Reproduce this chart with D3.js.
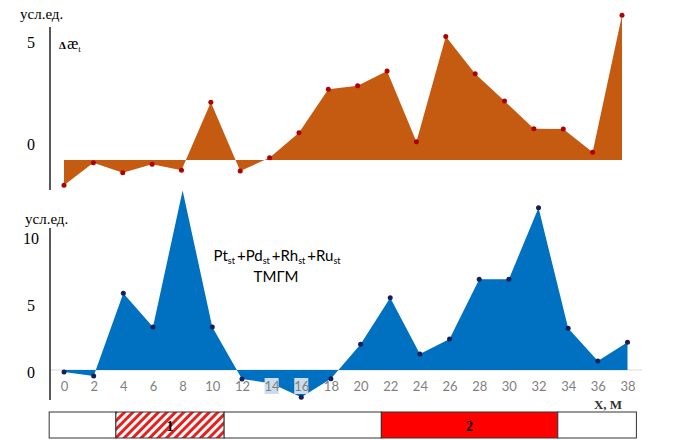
<!DOCTYPE html>
<html>
<head>
<meta charset="utf-8">
<script src="https://cdn.jsdelivr.net/npm/d3@7"></script>
<style>
  body { margin: 0; background: #fff; }
  svg { display: block; }
</style>
</head>
<body>
<svg id="chart" width="694" height="440"></svg>
<script>
// distance along profile, m
const xs = [0, 2, 4, 6, 8, 10, 12, 14, 16, 18, 20, 22, 24, 26, 28, 30, 32, 34, 36, 38];
// upper panel: delta ae_t
const deltaAe = [-1.24, -0.13, -0.62, -0.21, -0.5, 2.83, -0.54, 0.11, 1.34, 3.47, 3.64, 4.36, 0.9, 6.06, 4.23, 2.89, 1.53, 1.52, 0.38, 7.09];
// lower panel: Pt+Pd+Rh+Ru
const ptSum = [-0.15, -0.45, 5.72, 3.21, 13.4, 3.21, -0.67, -1.0, -2.04, -0.65, 1.92, 5.4, 1.19, 2.31, 6.77, 6.77, 12.11, 3.11, 0.67, 2.07];
const topTicks = [0, 5];
const botTicks = [0, 5, 10];
// zones under the profile (m)
const zoneEdges = [-1, 3.5, 10.8, 21.4, 33.3, 38.6];
const zoneTypes = ['none', 'hatch', 'none', 'solid', 'none'];
const zoneLabels = ['', '1', '', '2', ''];

const svg = d3.select('#chart');
const serif = 'Liberation Serif, Times New Roman, serif';
const sans = 'Lato, Open Sans, sans-serif';

const defs = svg.append('defs');
const pat = defs.append('pattern')
  .attr('id', 'hatch')
  .attr('patternUnits', 'userSpaceOnUse')
  .attr('width', 6).attr('height', 6)
  .attr('patternTransform', 'rotate(45)');
pat.append('rect').attr('width', 6).attr('height', 6).attr('fill', '#fff');
pat.append('rect').attr('width', 3).attr('height', 6).attr('fill', '#e8201c');

// ---- upper panel ----
const xTop = d3.scaleLinear().domain([0, 38]).range([64, 622]);
const yTop = d3.scaleLinear().domain([0, 5]).range([160, 58]);
const topData = xs.map((x, i) => ({ x, v: deltaAe[i] }));

svg.append('path')
  .datum(topData)
  .attr('fill', '#c55a11')
  .attr('d', d3.area().x(d => xTop(d.x)).y0(yTop(0)).y1(d => yTop(d.v)));

svg.selectAll('circle.top')
  .data(topData)
  .enter().append('circle')
  .attr('class', 'top')
  .attr('cx', d => xTop(d.x))
  .attr('cy', d => yTop(d.v))
  .attr('r', 2.5)
  .attr('fill', '#b00000');

svg.append('line')
  .attr('x1', 50).attr('x2', 50).attr('y1', 27).attr('y2', 190)
  .attr('stroke', '#000').attr('stroke-width', 1.3);

svg.selectAll('text.ytop')
  .data(topTicks)
  .enter().append('text')
  .attr('class', 'ytop')
  .attr('x', 31)
  .attr('y', d => yTop(d) - 10)
  .attr('text-anchor', 'middle')
  .attr('font-family', serif)
  .attr('font-size', 16)
  .text(d => d);

svg.append('text')
  .attr('x', 20).attr('y', 19)
  .attr('font-family', serif).attr('font-size', 15)
  .text('усл.ед.');

const ae = svg.append('text')
  .attr('x', 59).attr('y', 49)
  .attr('font-family', serif).attr('font-size', 17);
ae.append('tspan').attr('font-size', 11).attr('font-weight', 'bold').text('Δ');
ae.append('tspan').attr('dx', 1).text('æ');
ae.append('tspan').attr('font-size', 9).attr('dy', 3).text('t');

// ---- lower panel ----
const xBot = d3.scaleLinear().domain([0, 38]).range([64, 627.5]);
const yBot = d3.scaleLinear().domain([0, 10]).range([370, 236]);
const botData = xs.map((x, i) => ({ x, v: ptSum[i] }));

svg.append('line')
  .attr('x1', 50).attr('x2', 642).attr('y1', yBot(0)).attr('y2', yBot(0))
  .attr('stroke', '#d9d9d9').attr('stroke-width', 1);

svg.append('path')
  .datum(botData)
  .attr('fill', '#0070c0')
  .attr('d', d3.area().x(d => xBot(d.x)).y0(yBot(0)).y1(d => yBot(d.v)));

svg.selectAll('circle.bot')
  .data(botData.filter(d => d.x !== 8))
  .enter().append('circle')
  .attr('class', 'bot')
  .attr('cx', d => xBot(d.x))
  .attr('cy', d => yBot(d.v))
  .attr('r', 2.5)
  .attr('fill', '#14205a');

// label boxes behind 14 and 16
svg.selectAll('rect.lblbox')
  .data([14, 16])
  .enter().append('rect')
  .attr('class', 'lblbox')
  .attr('x', d => xBot(d) - 7)
  .attr('y', 378)
  .attr('width', 14).attr('height', 16)
  .attr('fill', '#cbdcec');

const xAxis = svg.append('g')
  .attr('transform', `translate(0,${yBot(0) + 10})`)
  .call(d3.axisBottom(xBot).tickValues(xs).tickSize(0).tickPadding(2));
xAxis.select('.domain').remove();
xAxis.selectAll('text')
  .attr('font-family', sans)
  .attr('font-size', 13)
  .attr('fill', '#7f7f7f');

svg.append('line')
  .attr('x1', 50).attr('x2', 50).attr('y1', 228).attr('y2', 400)
  .attr('stroke', '#000').attr('stroke-width', 1.3);

svg.selectAll('text.ybot')
  .data(botTicks)
  .enter().append('text')
  .attr('class', 'ybot')
  .attr('x', 31)
  .attr('y', d => yBot(d) + 8)
  .attr('text-anchor', 'middle')
  .attr('font-family', serif)
  .attr('font-size', 16)
  .text(d => d);

svg.append('text')
  .attr('x', 25).attr('y', 224)
  .attr('font-family', serif).attr('font-size', 15)
  .text('усл.ед.');

const pt = svg.append('text')
  .attr('x', 277).attr('y', 261)
  .attr('text-anchor', 'middle')
  .attr('font-family', sans).attr('font-size', 15);
['Pt', '+Pd', '+Rh', '+Ru'].forEach((el, i) => {
  pt.append('tspan').attr('dx', i === 0 ? 0 : 2).attr('dy', i === 0 ? 0 : -3).text(el);
  pt.append('tspan').attr('font-size', 9).attr('dy', 3).text('st');
});
svg.append('text')
  .attr('x', 276).attr('y', 282)
  .attr('text-anchor', 'middle')
  .attr('font-family', sans).attr('font-size', 15)
  .text('ТМГМ');

svg.append('text')
  .attr('x', 608).attr('y', 409)
  .attr('text-anchor', 'middle')
  .attr('font-family', serif).attr('font-size', 13).attr('font-weight', 'bold')
  .attr('fill', '#333')
  .text('X, M');

// ---- zone bar ----
const zones = zoneTypes.map((t, i) => ({ t, a: zoneEdges[i], b: zoneEdges[i + 1], label: zoneLabels[i] }));
svg.selectAll('rect.zone')
  .data(zones)
  .enter().append('rect')
  .attr('class', 'zone')
  .attr('x', d => xBot(d.a))
  .attr('y', 412)
  .attr('width', d => xBot(d.b) - xBot(d.a))
  .attr('height', 26)
  .attr('fill', d => d.t === 'hatch' ? 'url(#hatch)' : d.t === 'solid' ? '#ff0000' : '#fff')
  .attr('stroke', '#333')
  .attr('stroke-width', 1);

svg.selectAll('text.zone')
  .data(zones.filter(d => d.label))
  .enter().append('text')
  .attr('class', 'zone')
  .attr('x', d => (xBot(d.a) + xBot(d.b)) / 2)
  .attr('y', 431)
  .attr('text-anchor', 'middle')
  .attr('font-family', serif).attr('font-size', 14).attr('font-weight', 'bold')
  .text(d => d.label);
</script>
</body>
</html>
